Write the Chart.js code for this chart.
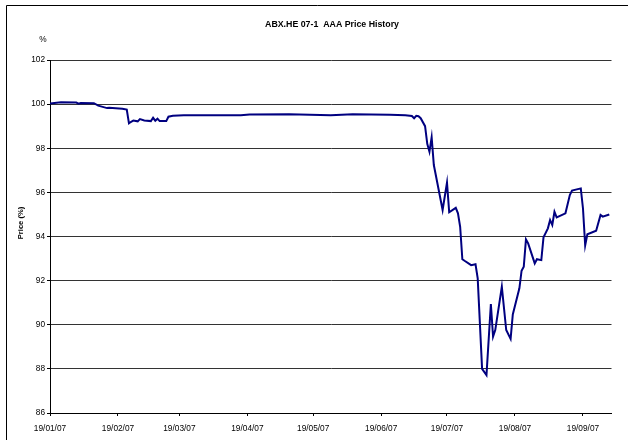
<!DOCTYPE html>
<html>
<head>
<meta charset="utf-8">
<script src="https://cdn.jsdelivr.net/npm/chart.js@4.4.1/dist/chart.umd.min.js"></script>
<style>
  html, body { margin: 0; padding: 0; background: #fff; }
</style>
</head>
<body>
<canvas id="priceChart" width="628" height="440"></canvas>
<script>
// ABX.HE 07-1 AAA closing prices
const dates = [
  '2007-01-19', '2007-01-24', '2007-01-31', '2007-02-01', '2007-02-02', '2007-02-08',
  '2007-02-10', '2007-02-14', '2007-02-15', '2007-02-21', '2007-02-23', '2007-02-24',
  '2007-02-25', '2007-02-26', '2007-02-28', '2007-03-01', '2007-03-03', '2007-03-06',
  '2007-03-07', '2007-03-08', '2007-03-09', '2007-03-10', '2007-03-13', '2007-03-14',
  '2007-03-16', '2007-03-21', '2007-04-16', '2007-04-20', '2007-05-08', '2007-05-27',
  '2007-06-06', '2007-06-23', '2007-06-30', '2007-07-03', '2007-07-04', '2007-07-05',
  '2007-07-06', '2007-07-07', '2007-07-09', '2007-07-10', '2007-07-11', '2007-07-12',
  '2007-07-13', '2007-07-17', '2007-07-19', '2007-07-20', '2007-07-23', '2007-07-24',
  '2007-07-25', '2007-07-26', '2007-07-27', '2007-07-30', '2007-08-01', '2007-08-02',
  '2007-08-04', '2007-08-06', '2007-08-08', '2007-08-09', '2007-08-10', '2007-08-13',
  '2007-08-15', '2007-08-17', '2007-08-18', '2007-08-21', '2007-08-22', '2007-08-23',
  '2007-08-24', '2007-08-25', '2007-08-28', '2007-08-29', '2007-08-31', '2007-09-01',
  '2007-09-03', '2007-09-04', '2007-09-05', '2007-09-06', '2007-09-07', '2007-09-11',
  '2007-09-13', '2007-09-14', '2007-09-18', '2007-09-19', '2007-09-20', '2007-09-21',
  '2007-09-25', '2007-09-27', '2007-09-28', '2007-10-01'
];
const prices = [
  100.03, 100.08, 100.07, 100.02, 100.05, 100.04,
  99.93, 99.82, 99.84, 99.79, 99.75, 99.13,
  99.20, 99.26, 99.22, 99.32, 99.26, 99.23,
  99.38, 99.25, 99.34, 99.23, 99.23, 99.43,
  99.47, 99.50, 99.50, 99.53, 99.54, 99.50,
  99.54, 99.52, 99.50, 99.46, 99.36, 99.47,
  99.45, 99.36, 99.00, 98.20, 97.84, 98.50,
  97.24, 95.20, 96.44, 95.10, 95.30, 95.05,
  94.44, 92.97, 92.90, 92.70, 92.74, 92.10,
  88.00, 87.72, 90.94, 89.46, 89.76, 91.72,
  89.76, 89.36, 90.47, 91.65, 92.45, 92.63,
  93.87, 93.69, 92.78, 92.97, 92.93, 93.96,
  94.37, 94.75, 94.52, 95.12, 94.87, 95.05,
  95.88, 96.08, 96.18, 95.27, 93.60, 94.10,
  94.26, 94.98, 94.90, 95.00
];

const tickDates = ['2007-01-19', '2007-02-19', '2007-03-19', '2007-04-19', '2007-05-19',
                   '2007-06-19', '2007-07-19', '2007-08-19', '2007-09-19'];
const tickLabels = ['19/01/07', '19/02/07', '19/03/07', '19/04/07', '19/05/07',
                    '19/06/07', '19/07/07', '19/08/07', '19/09/07'];
const axisEnd = '2007-10-02';

const FONT = '"Liberation Sans", Arial, sans-serif';

// days since the first date, so a plain linear axis can be used (no date adapter)
function dayOf(s) {
  const t = Date.UTC(+s.slice(0, 4), +s.slice(5, 7) - 1, +s.slice(8, 10));
  return (t - Date.UTC(2007, 0, 19)) / 86400000;
}

const tickDays = tickDates.map(dayOf);

// title, "%" unit, axis title and frame drawn straight on the canvas
const textPlugin = {
  id: 'extraText',
  afterDraw(chart) {
    const c = chart.ctx;
    c.save();
    c.fillStyle = '#000';
    c.textAlign = 'center';
    c.textBaseline = 'middle';
    c.font = 'bold 8.8px ' + FONT;
    c.fillText('ABX.HE 07-1  AAA Price History', 332, 25);
    c.font = '8.3px ' + FONT;
    c.fillText('%', 43, 40);
    c.translate(20.5, 223);
    c.rotate(-Math.PI / 2);
    c.font = 'bold 7.6px ' + FONT;
    c.fillText('Price (%)', 0, 0);
    c.restore();

    c.save();
    c.strokeStyle = '#000';
    c.lineWidth = 1;
    c.beginPath();
    c.moveTo(6.5, 440);
    c.lineTo(6.5, 5.5);
    c.lineTo(628, 5.5);
    c.stroke();
    c.restore();
  }
};

new Chart(document.getElementById('priceChart'), {
  type: 'line',
  data: {
    datasets: [{
      label: 'ABX.HE 07-1 AAA',
      data: dates.map((d, i) => ({ x: dayOf(d), y: prices[i] })),
      borderColor: '#000080',
      borderWidth: 2,
      pointRadius: 0,
      tension: 0,
      fill: false
    }]
  },
  options: {
    responsive: false,
    animation: false,
    events: [],
    layout: { padding: { left: 0, right: 16.5, top: 60, bottom: 0 } },
    plugins: {
      legend: { display: false },
      title: { display: false },
      tooltip: { enabled: false }
    },
    scales: {
      x: {
        type: 'linear',
        min: 0,
        max: dayOf(axisEnd),
        afterBuildTicks(scale) {
          scale.ticks = tickDays.map(v => ({ value: v }));
        },
        afterFit(scale) { scale.height = 27; },
        ticks: {
          autoSkip: false,
          maxRotation: 0,
          padding: 8,
          color: '#000',
          font: { family: FONT, size: 8.3 },
          callback: (v) => tickLabels[tickDays.indexOf(v)]
        },
        grid: {
          drawOnChartArea: false,
          drawTicks: true,
          tickLength: 3,
          tickColor: '#000'
        },
        border: { display: true, color: '#000', width: 1 }
      },
      y: {
        min: 86,
        max: 102,
        afterFit(scale) { scale.width = 50; },
        ticks: {
          stepSize: 2,
          padding: 2,
          color: '#000',
          font: { family: FONT, size: 8.3 }
        },
        grid: {
          color: '#333',
          lineWidth: 1,
          drawTicks: true,
          tickLength: 3,
          tickColor: '#000'
        },
        border: { display: true, color: '#000', width: 1 }
      }
    }
  },
  plugins: [textPlugin]
});
</script>
</body>
</html>
